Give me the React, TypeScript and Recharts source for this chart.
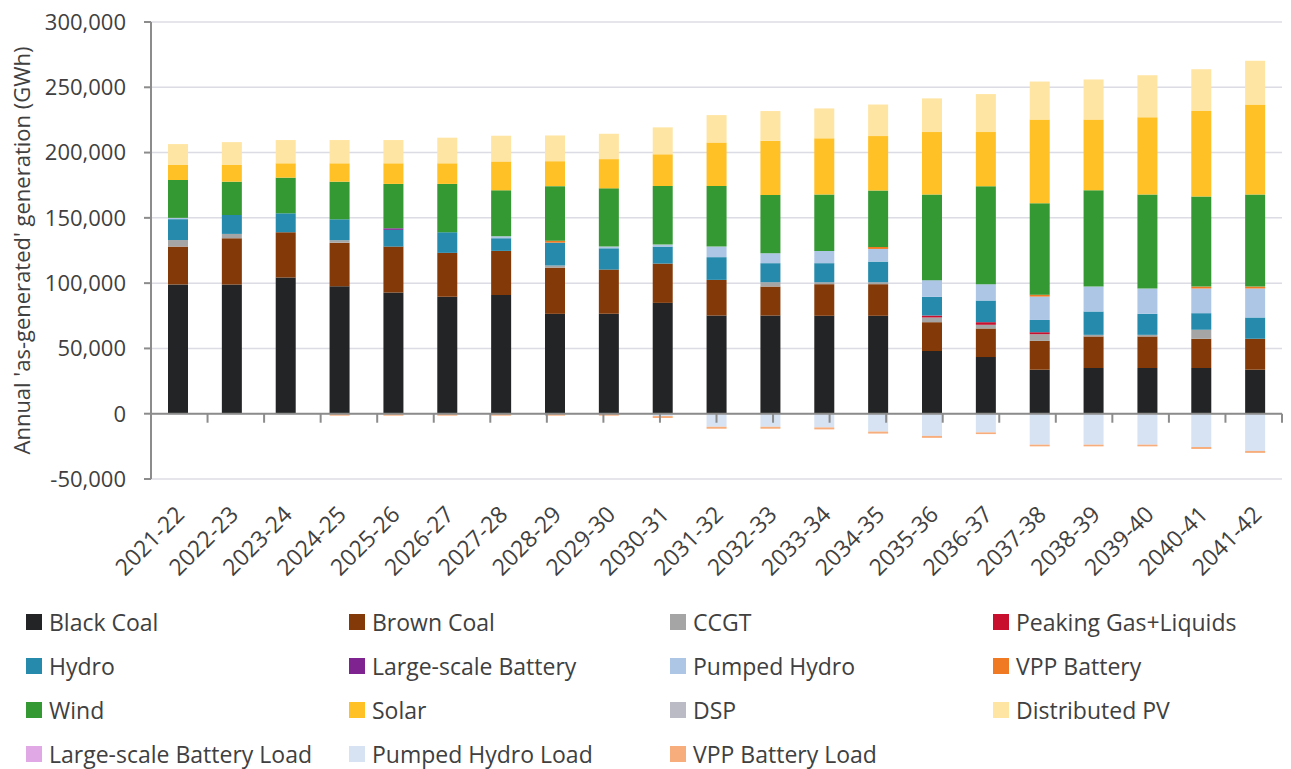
import React from 'react';
import { BarChart, Bar, XAxis, YAxis, CartesianGrid, ReferenceLine, Label } from 'recharts';

const years = ['2021-22', '2022-23', '2023-24', '2024-25', '2025-26', '2026-27', '2027-28', '2028-29', '2029-30', '2030-31', '2031-32', '2032-33', '2033-34', '2034-35', '2035-36', '2036-37', '2037-38', '2038-39', '2039-40', '2040-41', '2041-42'];

const blackCoal = [99000, 99000, 104300, 97700, 92800, 89500, 91000, 76500, 76500, 84900, 75200, 75200, 75000, 75000, 48000, 43400, 33700, 35000, 35000, 35000, 33700];
const brownCoal = [29000, 35400, 34700, 33300, 35200, 33700, 33700, 35400, 33900, 30100, 27300, 22200, 24200, 24200, 22100, 21900, 22100, 24200, 24200, 22400, 23700];
const ccgt = [5000, 3300, 0, 1900, 0, 0, 0, 1600, 0, 0, 0, 3300, 1500, 1500, 3600, 2800, 5100, 1200, 1200, 6900, 0];
const peakingGas = [0, 0, 0, 0, 0, 0, 0, 0, 0, 0, 0, 0, 0, 0, 1500, 2000, 1500, 0, 0, 0, 0];
const hydro = [16000, 14500, 14500, 16000, 12800, 15800, 9700, 17500, 16300, 13000, 17400, 14600, 14600, 15800, 14300, 16600, 9400, 17900, 16100, 12700, 16300];
const largeBattery = [0, 0, 0, 0, 1200, 0, 0, 0, 0, 0, 0, 0, 0, 0, 0, 0, 0, 0, 0, 0, 0];
const pumpedHydro = [1000, 0, 0, 0, 0, 0, 1500, 0, 1300, 1500, 8100, 7600, 9400, 9700, 12800, 12500, 17900, 19100, 19400, 18900, 22200];
const vppBattery = [0, 0, 0, 0, 0, 0, 0, 1500, 0, 0, 0, 0, 0, 1500, 0, 0, 1500, 0, 0, 1500, 1500];
const wind = [29000, 25500, 27300, 28800, 34000, 37000, 35200, 41800, 44600, 44900, 46400, 44600, 43100, 43300, 65500, 75000, 69900, 73700, 71900, 68900, 70400];
const solar = [11500, 12800, 11000, 14100, 15800, 15800, 22100, 19100, 22400, 24300, 33400, 41600, 43100, 41600, 47900, 41500, 64200, 54300, 59200, 65500, 69100];
const dsp = [0, 0, 0, 0, 0, 0, 0, 0, 0, 0, 0, 0, 0, 0, 0, 0, 0, 0, 0, 0, 0];
const distributedPV = [16000, 17500, 17800, 17800, 17800, 19600, 19700, 19700, 19400, 20600, 20900, 22700, 22900, 24200, 25800, 29100, 29100, 30600, 32300, 32100, 33400];
const largeBatteryLoad = [0, 0, 0, 0, 0, 0, 0, 0, 0, 0, 0, 0, 0, 0, 0, 0, 0, 0, 0, 0, 0];
const pumpedHydroLoad = [0, 0, 0, 0, 0, 0, 0, 0, 0, -1800, -10000, -10000, -10500, -13700, -17000, -14300, -23700, -23700, -23700, -25500, -28500];
const vppBatteryLoad = [0, 0, 0, -1500, -1500, -1500, -1500, -1500, -1500, -1500, -1500, -1500, -1500, -1500, -1500, -1300, -1300, -1300, -1300, -1500, -1500];

const yTicks = [-50000, 0, 50000, 100000, 150000, 200000, 250000, 300000];
const yTitle = "Annual 'as-generated' generation (GWh)";

const series = [
  { key: 'blackCoal', name: 'Black Coal', color: '#232425', values: blackCoal },
  { key: 'brownCoal', name: 'Brown Coal', color: '#843A08', values: brownCoal },
  { key: 'ccgt', name: 'CCGT', color: '#A5A5A5', values: ccgt },
  { key: 'peakingGas', name: 'Peaking Gas+Liquids', color: '#C8102E', values: peakingGas },
  { key: 'hydro', name: 'Hydro', color: '#258AAB', values: hydro },
  { key: 'largeBattery', name: 'Large-scale Battery', color: '#7E2390', values: largeBattery },
  { key: 'pumpedHydro', name: 'Pumped Hydro', color: '#ADC6E6', values: pumpedHydro },
  { key: 'vppBattery', name: 'VPP Battery', color: '#F07923', values: vppBattery },
  { key: 'wind', name: 'Wind', color: '#359933', values: wind },
  { key: 'solar', name: 'Solar', color: '#FFC125', values: solar },
  { key: 'dsp', name: 'DSP', color: '#BBBBC6', values: dsp },
  { key: 'distributedPV', name: 'Distributed PV', color: '#FFE5A3', values: distributedPV },
  { key: 'largeBatteryLoad', name: 'Large-scale Battery Load', color: '#E1A8E6', values: largeBatteryLoad },
  { key: 'pumpedHydroLoad', name: 'Pumped Hydro Load', color: '#D7E3F2', values: pumpedHydroLoad },
  { key: 'vppBatteryLoad', name: 'VPP Battery Load', color: '#F8AE7C', values: vppBatteryLoad },
];

const data = years.map((year, i) => {
  const row: Record<string, any> = { year };
  series.forEach((s) => { row[s.key] = s.values[i]; });
  return row;
});

const boundaries = years.map((_, i) => i + 1);
const BOUNDARY_TICK = 6900;

const FONT = "'Open Sans', sans-serif";
const TEXT = '#404040';
const AXIS = '#8c8c8c';

const XTick = (props: any) => {
  const { x, y, payload } = props;
  const ax = x + 8;
  const ay = y + 37;
  return (
    <text x={ax} y={ay} textAnchor="end" transform={`rotate(-45, ${ax}, ${ay})`} fill={TEXT} fontSize={23} fontFamily={FONT}>
      {payload.value}
    </text>
  );
};

const YTitle = (props: any) => {
  const vb = props.viewBox || { x: 0, y: 0, width: 0, height: 0 };
  const cx = 21;
  const cy = vb.y + vb.height / 2;
  return (
    <text x={cx} y={cy} textAnchor="middle" dominantBaseline="central" transform={`rotate(-90, ${cx}, ${cy})`} fill={TEXT} fontSize={22} fontFamily={FONT}>
      {yTitle}
    </text>
  );
};

const legendLefts = [26, 349, 670, 993];

export default function App() {
  return (
    <div style={{ position: 'absolute', left: 0, top: 0, width: 1291, height: 769, background: '#fff', fontFamily: FONT }}>
      <BarChart width={1291} height={600} data={data} stackOffset="sign" margin={{ top: 22, right: 9, left: 0, bottom: 0 }} barSize={20}>
        <CartesianGrid vertical={false} stroke="#dcdce4" strokeWidth={1.5} />
        <XAxis dataKey="year" interval={0} tick={<XTick />} tickLine={false} axisLine={false} height={121} tickSize={0} tickMargin={0} />
        <XAxis xAxisId="b" type="number" domain={[0, years.length]} hide />
        <YAxis
          width={151}
          domain={[-50000, 300000]}
          ticks={yTicks}
          interval={0}
          tickFormatter={(v: number) => v.toLocaleString('en-US')}
          tick={{ fill: TEXT, fontSize: 22, fontFamily: FONT }}
          axisLine={{ stroke: AXIS, strokeWidth: 2 }}
          tickLine={{ stroke: AXIS, strokeWidth: 2 }}
          tickSize={7}
          tickMargin={18}
        >
          <Label content={<YTitle />} position="insideLeft" />
        </YAxis>
        {series.map((s) => (
          <Bar key={s.key} dataKey={s.key} name={s.name} stackId="a" fill={s.color} isAnimationActive={false} />
        ))}
        <ReferenceLine y={0} stroke={AXIS} strokeWidth={2} />
        {boundaries.map((b) => (
          <ReferenceLine key={b} xAxisId="b" segment={[{ x: b, y: 0 }, { x: b, y: -BOUNDARY_TICK }]} stroke={AXIS} strokeWidth={2} ifOverflow="visible" />
        ))}
      </BarChart>
      {series.map((s, i) => {
        const col = i % 4;
        const row = Math.floor(i / 4);
        const left = legendLefts[col];
        const top = 622 + row * 44;
        return (
          <div key={s.key} style={{ position: 'absolute', left, top: top - 15, height: 30, display: 'flex', alignItems: 'center', whiteSpace: 'nowrap' }}>
            <div style={{ width: 16, height: 16, background: s.color, marginRight: 7 }} />
            <span style={{ fontSize: 23, color: TEXT, fontFamily: FONT }}>{s.name}</span>
          </div>
        );
      })}
    </div>
  );
}
